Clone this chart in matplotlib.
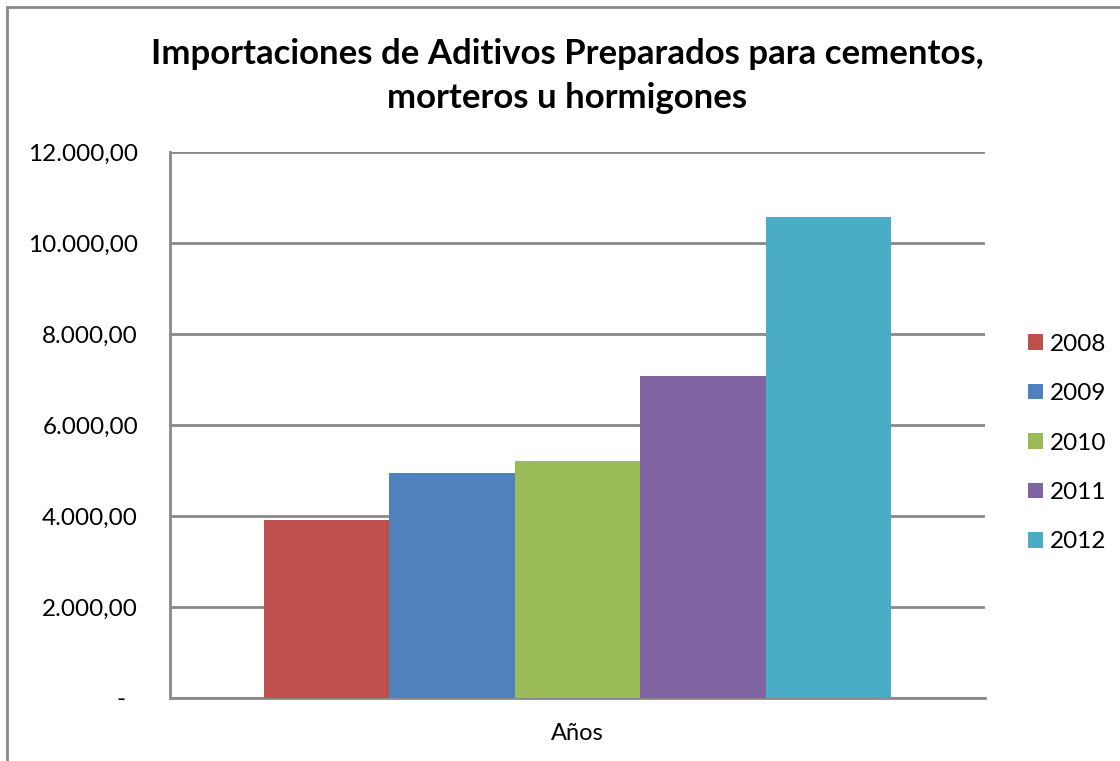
import matplotlib
matplotlib.use("Agg")
import matplotlib.pyplot as plt
from matplotlib.patches import Rectangle
from matplotlib.ticker import FuncFormatter

# datos
anios = ['2008', '2009', '2010', '2011', '2012']
valores = [3912, 4945, 5209, 7077, 10571]
colores = ['#C0504D', '#4F81BD', '#9BBB59', '#8064A2', '#4BACC6']
categoria = 'Años'
titulo = 'Importaciones de Aditivos Preparados para cementos,\nmorteros u hormigones'
yticks = [0, 2000, 4000, 6000, 8000, 10000, 12000]

plt.rcParams['font.family'] = ['Lato', 'DejaVu Sans']

fig = plt.figure(figsize=(11.2, 7.61), dpi=100)
ax = fig.add_axes([170/1120, 63/761, 815/1120, 546/761])

# borde exterior del grafico
fig.patches.append(Rectangle((7/1120, -0.1), 1.2, (754/761) + 0.1, transform=fig.transFigure,
                             fill=False, edgecolor='#898989', linewidth=2))

n = len(valores)
for i in range(n):
    ax.bar(i - (n - 1) / 2, valores[i], width=1.0, color=colores[i], label=anios[i], zorder=3)

ax.set_xlim(-3.25, 3.25)
ax.set_ylim(0, 12000)
ax.set_yticks(yticks)

def fmt(v, pos):
    if v == 0:
        return '-  '
    s = '{:,.2f}'.format(v)
    return s.replace(',', 'X').replace('.', ',').replace('X', '.')

ax.yaxis.set_major_formatter(FuncFormatter(fmt))
ax.set_xticks([0])
ax.set_xticklabels([categoria])
ax.tick_params(axis='x', length=0, labelsize=17, pad=18)
ax.tick_params(axis='y', length=0, labelsize=17.5, pad=23)

ax.grid(axis='y', color='#898989', linewidth=2, zorder=0)
for s in ['top', 'right']:
    ax.spines[s].set_visible(False)
ax.spines['left'].set_color('#898989')
ax.spines['left'].set_linewidth(2)
ax.spines['bottom'].set_color('#898989')
ax.spines['bottom'].set_linewidth(2)

fig.text(567/1120, 1 - 76/761, titulo, ha='center', va='center', fontsize=25,
         fontweight='bold', linespacing=1.5)

ax.legend(loc='center left', bbox_to_anchor=(1028/1120, 1 - 443/761), bbox_transform=fig.transFigure,
          frameon=False, fontsize=17.5, handlelength=0.62, handleheight=0.62,
          handletextpad=0.3, labelspacing=1.17, borderpad=0, borderaxespad=0)

fig.savefig('out.png', dpi=100)
